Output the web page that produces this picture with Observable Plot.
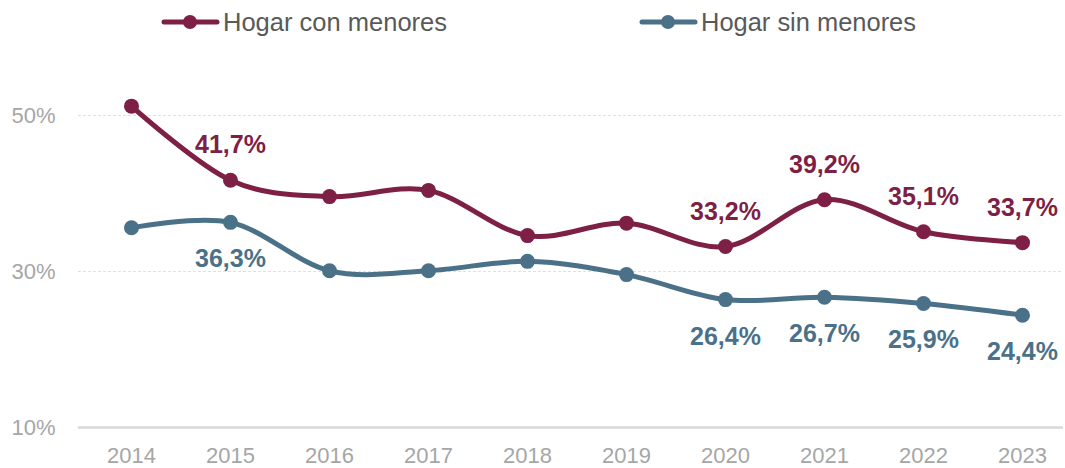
<!DOCTYPE html>
<html>
<head>
<meta charset="utf-8">
<script src="https://cdn.jsdelivr.net/npm/d3@7"></script>
<script src="https://cdn.jsdelivr.net/npm/@observablehq/plot@0.6"></script>
<style>
  html, body { margin: 0; padding: 0; background: #fff; }
  #wrap { width: 1065px; height: 468px; position: relative; }
  #legend { display: block; }
</style>
</head>
<body>
<div id="wrap">
  <svg id="legend" width="1065" height="44"></svg>
  <div id="chart"></div>
</div>
<script>
const years = [2014, 2015, 2016, 2017, 2018, 2019, 2020, 2021, 2022, 2023];
const conMenores = [51.2, 41.7, 39.6, 40.4, 34.6, 36.2, 33.2, 39.2, 35.1, 33.7];
const sinMenores = [35.6, 36.3, 30.1, 30.1, 31.3, 29.6, 26.4, 26.7, 25.9, 24.4];
const labeledYears = [2015, 2020, 2021, 2022, 2023];
const seriesNames = ["Hogar con menores", "Hogar sin menores"];
const seriesColors = ["#7E1F45", "#4B7189"];
const yTicks = [10, 30, 50];

const rows = [];
years.forEach((y, i) => {
  rows.push({year: y, value: conMenores[i], series: seriesNames[0]});
  rows.push({year: y, value: sinMenores[i], series: seriesNames[1]});
});
const fmt = v => v.toFixed(1).replace(".", ",") + "%";
const labRows = rows.filter(r => labeledYears.includes(r.year));

// legend (SVG above the chart)
const legend = d3.select("#legend");
const legendItems = [
  {x: 162, len: 224},
  {x: 640, len: 215}
];
seriesNames.forEach((name, i) => {
  const it = legendItems[i];
  const g = legend.append("g").attr("transform", `translate(${it.x},0)`);
  g.append("line").attr("x1", 2).attr("x2", 55).attr("y1", 22).attr("y2", 22)
    .attr("stroke", seriesColors[i]).attr("stroke-width", 5).attr("stroke-linecap", "round");
  g.append("circle").attr("cx", 28).attr("cy", 22).attr("r", 7).attr("fill", seriesColors[i]);
  g.append("text").attr("x", 61).attr("y", 31)
    .attr("font-family", "'Liberation Sans', Arial, sans-serif").attr("font-size", 25)
    .attr("fill", "#595959")
    .attr("textLength", it.len).attr("lengthAdjust", "spacingAndGlyphs")
    .text(name);
});

const color = {domain: seriesNames, range: seriesColors};
const chart = Plot.plot({
  width: 1065,
  height: 424,
  marginLeft: 78,
  marginRight: 2,
  marginTop: 71,
  marginBottom: 41,
  style: {fontFamily: "'Liberation Sans', Arial, sans-serif", background: "#fff", overflow: "visible"},
  x: {type: "point", domain: years, range: [127, 1025], padding: 0, label: null},
  y: {domain: [10, 50], label: null},
  color,
  marks: [
    Plot.ruleY(yTicks.filter(t => t !== 10), {stroke: "#E0E0E0", strokeWidth: 1, strokeDasharray: "3,2"}),
    Plot.ruleY([10], {stroke: "#D9D9D9", strokeWidth: 2.5}),
    Plot.axisY({ticks: yTicks, tickFormat: d => d + "%", tickSize: 0, tickPadding: 23, fontSize: 22, fill: "#A6A6A6", label: null}),
    Plot.axisX({tickSize: 0, tickPadding: 20, fontSize: 22, fill: "#A6A6A6", tickFormat: d => String(d), label: null}),
    Plot.line(rows, {x: "year", y: "value", z: "series", stroke: d => d.series, strokeWidth: 5, curve: "cardinal"}),
    Plot.dot(rows, {x: "year", y: "value", fill: d => d.series, r: 7.5}),
    Plot.text(labRows.filter(r => r.series === seriesNames[0]), {x: "year", y: "value", text: d => fmt(d.value), dy: -35, fill: seriesColors[0], fontSize: 25, fontWeight: "bold"}),
    Plot.text(labRows.filter(r => r.series === seriesNames[1]), {x: "year", y: "value", text: d => fmt(d.value), dy: 37, fill: seriesColors[1], fontSize: 25, fontWeight: "bold"})
  ]
});
document.getElementById("chart").appendChild(chart);
</script>
</body>
</html>
